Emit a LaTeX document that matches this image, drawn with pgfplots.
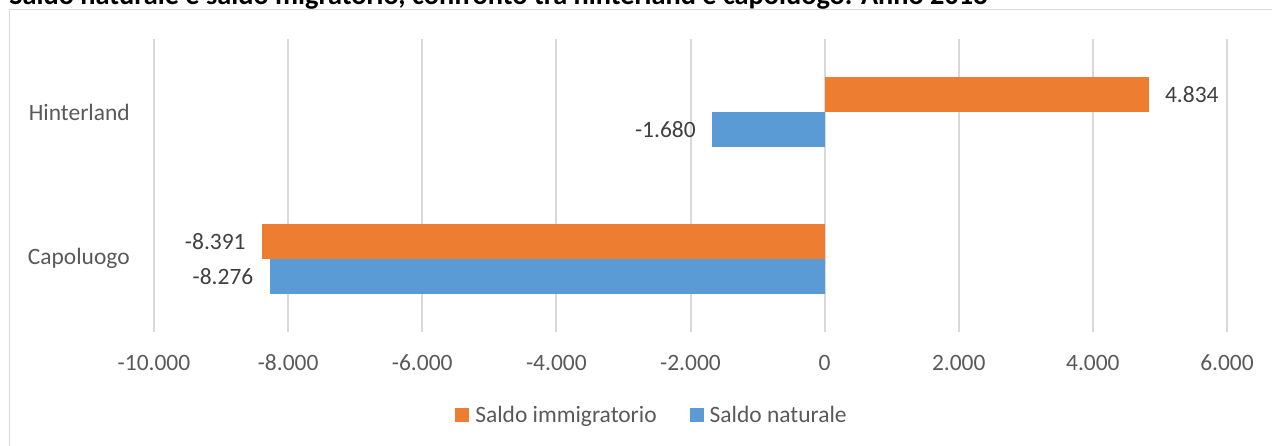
\documentclass[border=0pt]{standalone}
\usepackage{pgfplots}
\pgfplotsset{compat=1.18}
\usepackage{fontspec}
\setmainfont{Carlito}
\definecolor{cOrange}{HTML}{ED7D31}
\definecolor{cBlue}{HTML}{5B9BD5}
\definecolor{cGrid}{HTML}{D9D9D9}
\definecolor{cTick}{HTML}{595959}
\definecolor{cVal}{HTML}{404040}
\newcommand{\lblfont}{\fontsize{17.6}{21}\selectfont}
\begin{document}
\begin{tikzpicture}
\useasboundingbox (0pt,0pt) rectangle (954pt,-334.5pt);
\clip (0pt,0pt) rectangle (954pt,-334.5pt);
\draw[cGrid, line width=0.75pt] (7.1pt,-7.1pt) rectangle (960pt,-345pt);
\node[anchor=base west, inner sep=0pt] at (6.75pt,-3.2pt) {\resizebox{733.5pt}{!}{\bfseries Saldo naturale e saldo migratorio, confronto tra hinterland e capoluogo. Anno 2018}};
\begin{axis}[
  at={(115.5pt,-249pt)}, anchor=south west,
  scale only axis, width=804.75pt, height=219.75pt,
  xmin=-10000, xmax=6000, ymin=-0.5, ymax=1.5,
  xtick={-10000,-8000,-6000,-4000,-2000,0,2000,4000,6000},
  scaled x ticks=false,
  ytick={0,1}, yticklabels={Capoluogo,Hinterland},
  xbar, bar width=0.239,
  axis line style={draw=none},
  major tick length=0pt,
  xmajorgrids, grid style={cGrid, line width=1.5pt},
  /pgf/number format/.cd, fixed, 1000 sep={.}, assume math mode=true,
  /pgfplots/.cd,
  ticklabel style={font=\lblfont, text=cTick, inner sep=0pt},
  xticklabel shift=17pt,
  yticklabel shift=18pt,
  nodes near coords,
  every node near coord/.append style={font=\lblfont, text=cVal, inner sep=0pt},
  legend columns=2,
  legend style={at={(0.4632,-0.2833)}, anchor=center, draw=none, fill=none,
    font=\lblfont, text=cTick, nodes={inner sep=0pt},
    /tikz/every odd column/.append style={column sep=4.5pt},
    /tikz/every even column/.append style={column sep=24.75pt}},
  legend image code/.code={\fill[#1] (0pt,-5.25pt) rectangle (10.5pt,5.25pt);},
]
\addplot[fill=cOrange, draw=none, bar shift=0.1195,
  every node near coord/.append style={anchor=west, xshift=12pt}]
  coordinates {(4834,1)};
\addplot[fill=cOrange, draw=none, bar shift=0.1195, forget plot,
  every node near coord/.append style={anchor=east, xshift=-12pt}]
  coordinates {(-8391,0)};
\addplot[fill=cBlue, draw=none, bar shift=-0.1195,
  every node near coord/.append style={anchor=east, xshift=-12pt}]
  coordinates {(-1680,1)};
\addplot[fill=cBlue, draw=none, bar shift=-0.1195, forget plot,
  every node near coord/.append style={anchor=east, xshift=-12pt}]
  coordinates {(-8276,0)};
\legend{Saldo immigratorio, Saldo naturale}
\end{axis}
\end{tikzpicture}
\end{document}
